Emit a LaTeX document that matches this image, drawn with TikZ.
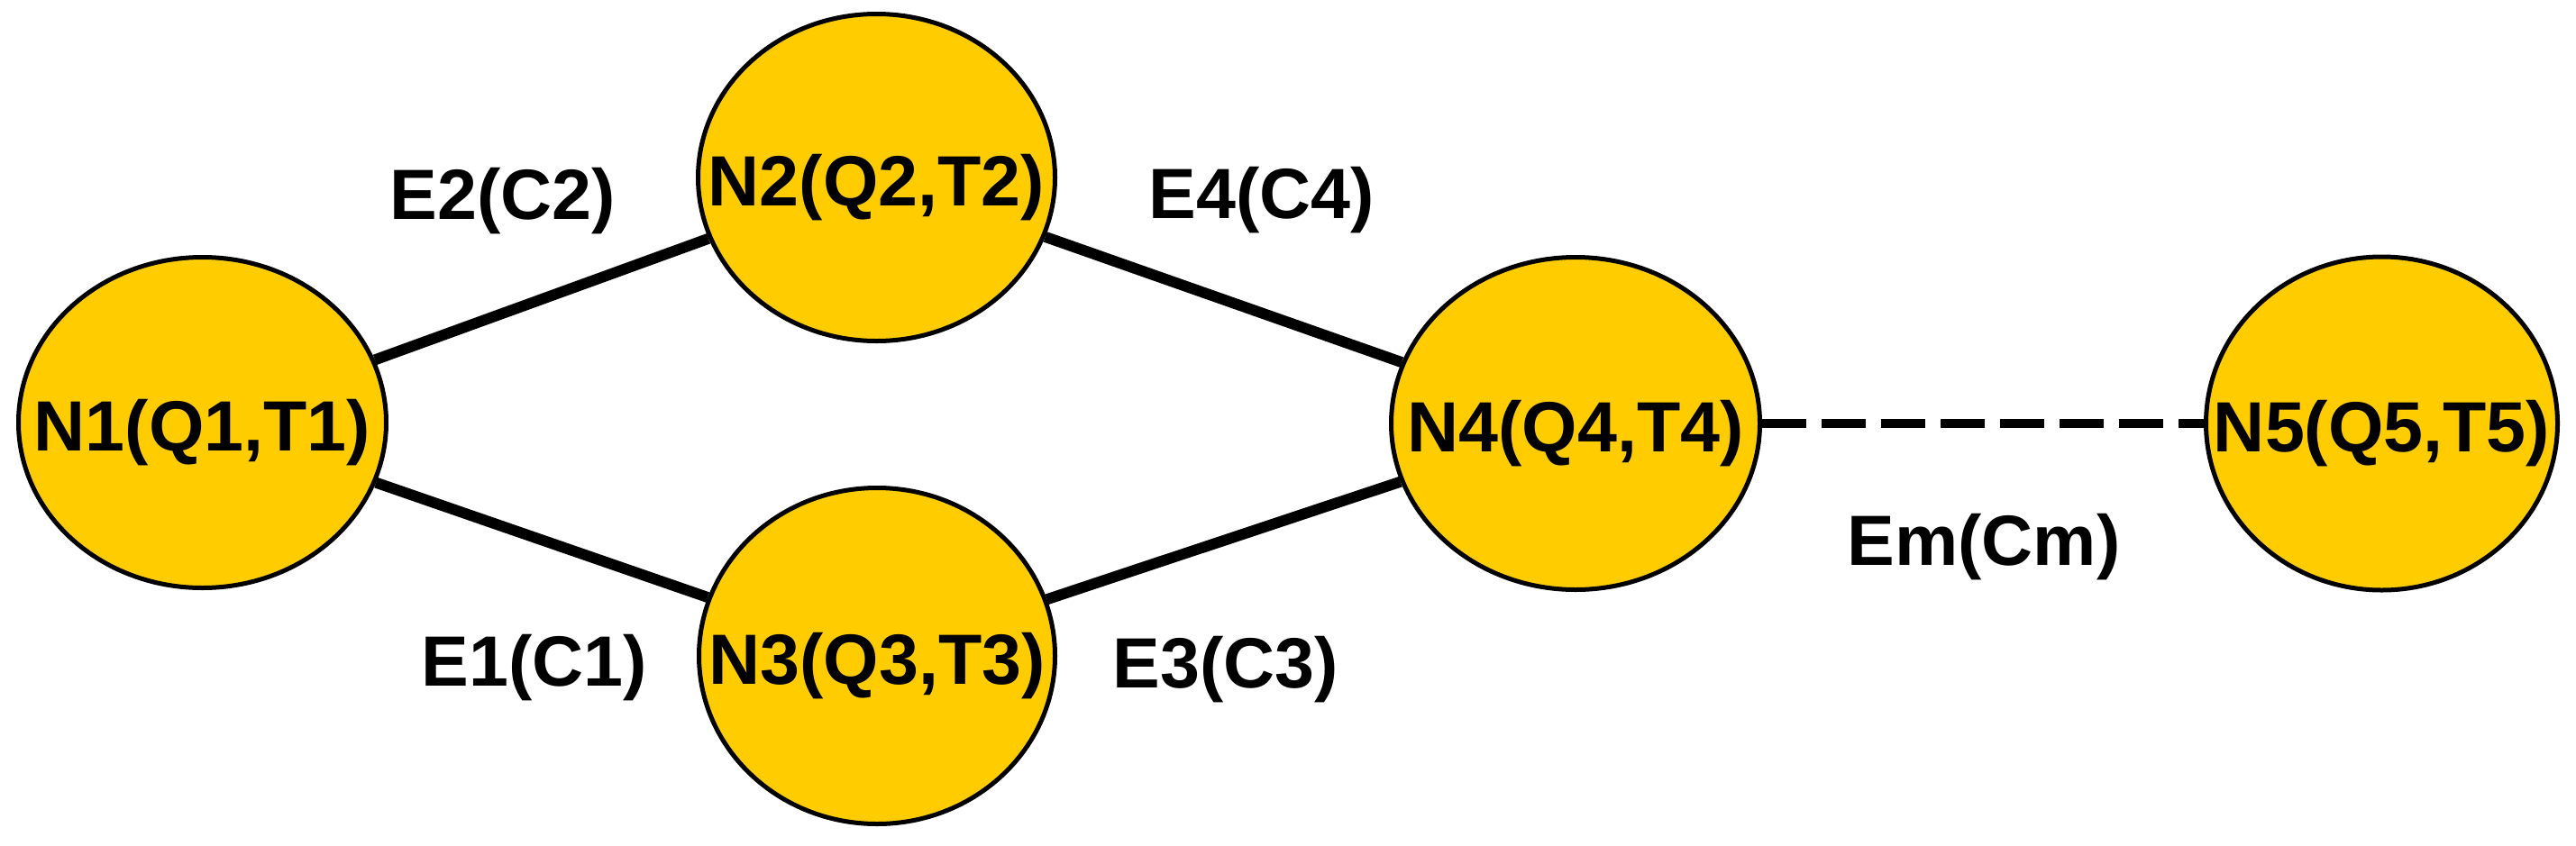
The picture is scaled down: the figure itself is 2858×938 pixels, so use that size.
\documentclass[tikz,border=0pt]{standalone}
\usepackage{fontspec}
\setmainfont{Liberation Sans}
\usetikzlibrary{shapes.geometric}
\definecolor{nodeyellow}{RGB}{255,204,0}
\newcommand{\ntext}[1]{\raisebox{-15.5pt}[0pt][0pt]{\makebox[0pt]{#1}}}
\begin{document}
\begin{tikzpicture}[x=0.5pt,y=-0.5pt,
  nd/.style={ellipse, draw=black, fill=nodeyellow, line width=2.5pt, inner sep=0pt,
    font=\fontsize{39.5pt}{40pt}\selectfont\bfseries},
  lbl/.style={inner sep=0pt, anchor=base, font=\fontsize{39.5pt}{40pt}\selectfont\bfseries},
  edge/.style={line width=6pt, draw=black},
  dline/.style={line width=4.75pt, draw=black, dash pattern=on 24.5pt off 8.5pt}]
\useasboundingbox (0,0) rectangle (2858,938);
\node[nd, minimum width=204pt, minimum height=183.5pt] (n1) at (224.5,469) {\ntext{N1(Q1,T1)}};
\node[nd, minimum width=198pt, minimum height=181.5pt] (n2) at (972.5,197) {\ntext{N2(Q2,T2)}};
\node[nd, minimum width=197.5pt, minimum height=186.5pt] (n3) at (973,728) {\ntext{N3(Q3,T3)}};
\node[nd, minimum width=204.5pt, minimum height=184.5pt] (n4) at (1748,470) {\ntext{N4(Q4,T4)}};
\node[nd, minimum width=195pt, minimum height=185pt] (n5) at (2642.5,470) {\ntext{N5(Q5,T5)}};
\draw[edge] (n1) -- (n2);
\draw[edge] (n1) -- (n3);
\draw[edge] (n2) -- (n4);
\draw[edge] (n3) -- (n4);
\draw[dline] (n4) -- (n5);
\node[lbl] (e2) at (558,243) {E2(C2)};
\node[lbl] (e4) at (1400,242) {E4(C4)};
\node[lbl] (e1) at (593,761) {E1(C1)};
\node[lbl] (e3) at (1360,763) {E3(C3)};
\node[lbl] (em) at (2201,627) {Em(Cm)};
\end{tikzpicture}
\end{document}
